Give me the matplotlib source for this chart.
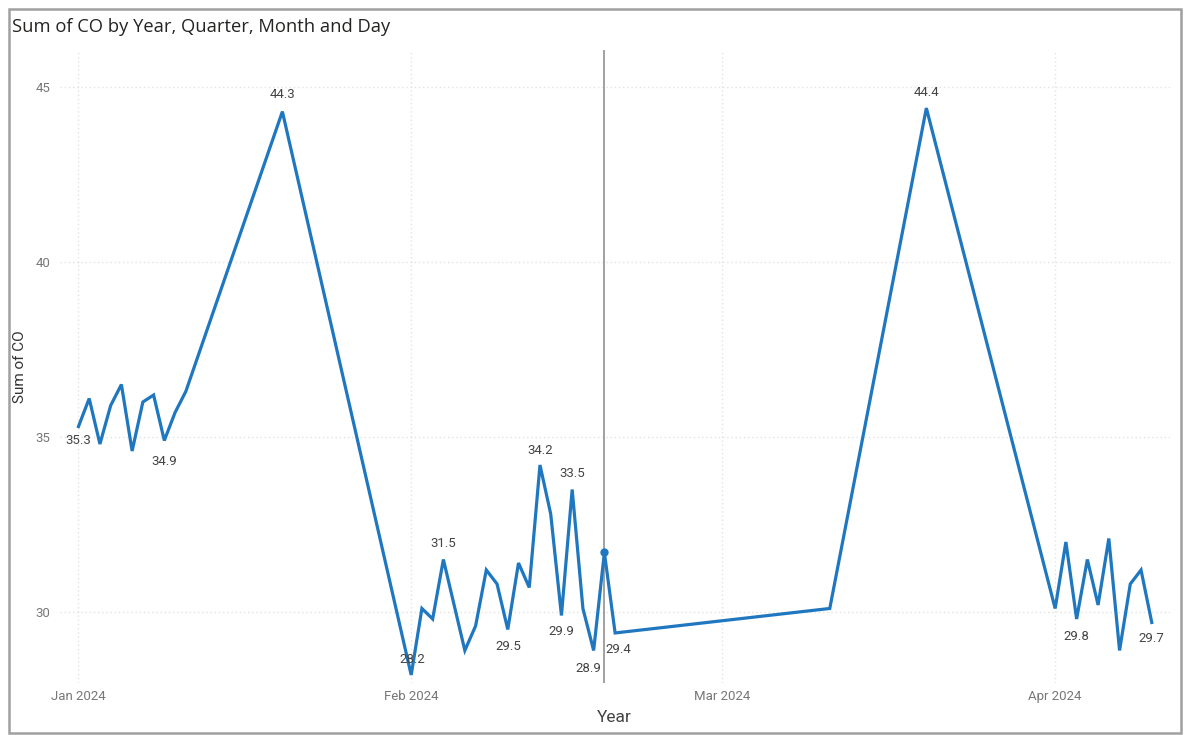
import matplotlib
matplotlib.use("Agg")
import matplotlib.pyplot as plt
import matplotlib.dates as mdates
from matplotlib.patches import Rectangle
import numpy as np

plt.rcParams['font.family'] = ['Roboto', 'DejaVu Sans']

# Daily CO totals
dates = [
    "2024-01-01", "2024-01-02", "2024-01-03", "2024-01-04", "2024-01-05",
    "2024-01-06", "2024-01-07", "2024-01-08", "2024-01-09", "2024-01-10",
    "2024-01-11", "2024-01-20",
    "2024-02-01", "2024-02-02", "2024-02-03", "2024-02-04", "2024-02-06",
    "2024-02-07", "2024-02-08", "2024-02-09", "2024-02-10", "2024-02-11",
    "2024-02-12", "2024-02-13", "2024-02-14", "2024-02-15", "2024-02-16",
    "2024-02-17", "2024-02-18", "2024-02-19", "2024-02-20",
    "2024-03-11", "2024-03-20",
    "2024-04-01", "2024-04-02", "2024-04-03", "2024-04-04", "2024-04-05",
    "2024-04-06", "2024-04-07", "2024-04-08", "2024-04-09", "2024-04-10",
]
co_values = [
    35.3, 36.1, 34.8, 35.9, 36.5,
    34.6, 36.0, 36.2, 34.9, 35.7,
    36.3, 44.3,
    28.2, 30.1, 29.8, 31.5, 28.9,
    29.6, 31.2, 30.8, 29.5, 31.4,
    30.7, 34.2, 32.8, 29.9, 33.5,
    30.1, 28.9, 31.7, 29.4,
    30.1, 44.4,
    30.1, 32.0, 29.8, 31.5, 30.2,
    32.1, 28.9, 30.8, 31.2, 29.7,
]

# Which points carry a data label, and where the label sits (pixel offset)
label_dates = ["2024-01-01", "2024-01-09", "2024-01-20", "2024-02-01", "2024-02-04",
               "2024-02-10", "2024-02-13", "2024-02-15", "2024-02-16", "2024-02-18",
               "2024-02-20", "2024-03-20", "2024-04-03", "2024-04-10"]
label_offsets = [(0, -14), (0, -21), (0, 17), (1, 15), (0, 16),
                 (1, -17), (0, 15), (0, -16), (0, 16), (-5, -18),
                 (3, -17), (0, 16), (0, -18), (0, -16)]

highlight_date = "2024-02-19"
month_ticks = ["2024-01-01", "2024-02-01", "2024-03-01", "2024-04-01"]
y_ticks = [30, 35, 40, 45]

x = np.array(dates, dtype="datetime64[D]")
y = np.array(co_values)

W, H = 1184, 735
fig = plt.figure(figsize=(W / 100, H / 100), dpi=100)
fig.patch.set_facecolor("white")

# visual frame
fig.patches.append(Rectangle((9 / W, 2 / H), 1172 / W, 724 / H, transform=fig.transFigure,
                             fill=False, edgecolor="#a0a0a0", linewidth=1.8))

ax = fig.add_axes([60 / W, (H - 683) / H, 1110 / W, 633 / H])
ax.set_facecolor("white")

line_color = "#1f77c0"
ax.plot(x, y, color=line_color, linewidth=2.3, solid_joinstyle="miter", zorder=3)

hi = np.datetime64(highlight_date)
hi_val = y[np.where(x == hi)[0][0]]
ax.plot([hi], [hi_val], marker="o", markersize=5, color=line_color, zorder=4)
ax.axvline(hi, color="#9a9a9a", linewidth=1.3, zorder=2)

for d, (dx, dy) in zip(label_dates, label_offsets):
    dd = np.datetime64(d)
    v = y[np.where(x == dd)[0][0]]
    ax.annotate(f"{v:.1f}", xy=(dd, v), xytext=(dx, dy), textcoords="offset pixels",
                ha="center", va="center", fontsize=9.5, color="#444444", zorder=5)

start = np.datetime64("2024-01-01")
ax.set_xlim(mdates.date2num(start) - 1.72, mdates.date2num(start) + 101.7)
ax.set_ylim(27.97, 46.06)

ax.set_xticks(np.array(month_ticks, dtype="datetime64[D]"))
ax.xaxis.set_major_formatter(mdates.DateFormatter("%b %Y"))
ax.set_yticks(y_ticks)
ax.tick_params(axis="both", length=0, labelsize=9.5, labelcolor="#777777")
ax.tick_params(axis="x", pad=5)
ax.tick_params(axis="y", pad=7)

ax.grid(True, color="#e2e2e2", linestyle=(0, (1, 2)), linewidth=1)
ax.set_axisbelow(True)
for s in ax.spines.values():
    s.set_visible(False)

fig.text(12 / W, 1 - 27 / H, "Sum of CO by Year, Quarter, Month and Day",
         fontsize=13.2, color="#252423", ha="left", va="center",
         family=["Open Sans", "DejaVu Sans"])
fig.text(20 / W, 1 - 367 / H, "Sum of CO", rotation=90, fontsize=11,
         color="#333333", ha="center", va="center")
fig.text(614 / W, 1 - 717 / H, "Year", fontsize=12.5, color="#444444",
         ha="center", va="center")

fig.savefig("out.png", dpi=100, facecolor="white")
